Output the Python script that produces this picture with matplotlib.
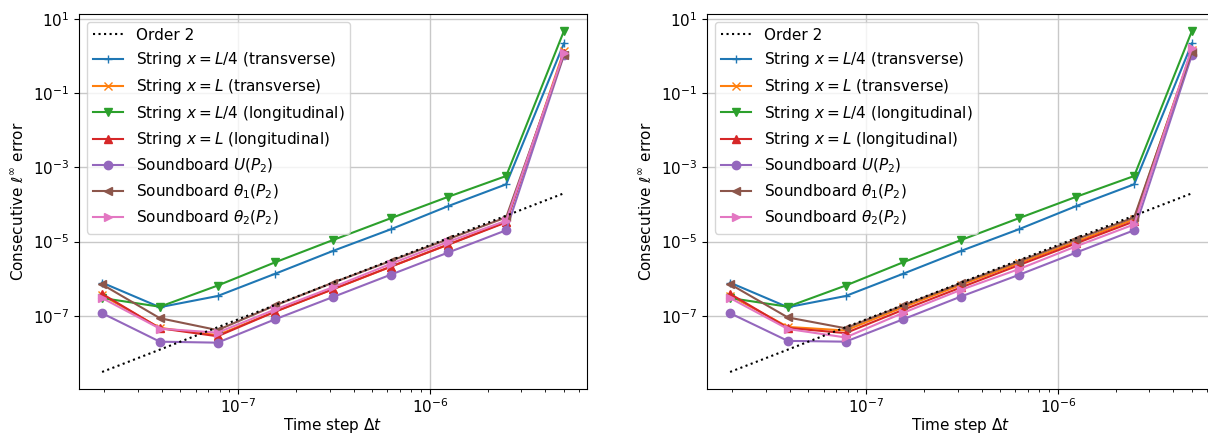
import matplotlib
matplotlib.use('Agg')
import matplotlib.pyplot as plt
import numpy as np

plt.rcParams['font.size'] = 11

# time steps (increasing)
dt = np.array([1.953125e-8, 3.90625e-8, 7.8125e-8, 1.5625e-7, 3.125e-7,
               6.25e-7, 1.25e-6, 2.5e-6, 5e-6])
order2_coef = 8e6

labels = [r'String $x = L/4$ (transverse)', r'String $x = L$ (transverse)',
          r'String $x = L/4$ (longitudinal)', r'String $x = L$ (longitudinal)',
          r'Soundboard $U(P_2)$', r'Soundboard $\theta_1(P_2)$', r'Soundboard $\theta_2(P_2)$']
markers = ['+', 'x', 'v', '^', 'o', '<', '>']

# left panel errors
left_str_l4_tr = [7.8e-7, 1.7e-7, 3.4e-7, 1.36e-6, 5.6e-6, 2.14e-5, 9.1e-5, 3.5e-4, 2.2]
left_str_l_tr = [3.6e-7, 4.7e-8, 3.0e-8, 1.3e-7, 5.2e-7, 2.1e-6, 8.4e-6, 3.4e-5, 1.4]
left_str_l4_lo = [3.0e-7, 1.75e-7, 6.5e-7, 2.77e-6, 1.1e-5, 4.25e-5, 1.62e-4, 5.86e-4, 4.74]
left_str_l_lo = [3.9e-7, 4.6e-8, 2.8e-8, 1.29e-7, 5.2e-7, 2.1e-6, 8.3e-6, 3.3e-5, 1.2]
left_sb_u = [1.17e-7, 2.0e-8, 1.88e-8, 8.05e-8, 3.2e-7, 1.28e-6, 5.1e-6, 2.02e-5, 1.05]
left_sb_th1 = [7.0e-7, 8.6e-8, 4.1e-8, 1.9e-7, 7.8e-7, 3.0e-6, 1.17e-5, 4.5e-5, 1.1]
left_sb_th2 = [3.0e-7, 4.5e-8, 3.5e-8, 1.48e-7, 5.9e-7, 2.5e-6, 9.9e-6, 3.66e-5, 1.24]

# right panel errors
right_str_l4_tr = [7.8e-7, 1.7e-7, 3.4e-7, 1.36e-6, 5.6e-6, 2.14e-5, 9.1e-5, 3.5e-4, 2.2]
right_str_l_tr = [3.5e-7, 5.0e-8, 4.0e-8, 1.7e-7, 6.8e-7, 2.6e-6, 1.0e-5, 4.0e-5, 1.5]
right_str_l4_lo = [3.0e-7, 1.75e-7, 6.5e-7, 2.77e-6, 1.1e-5, 4.25e-5, 1.62e-4, 5.86e-4, 4.74]
right_str_l_lo = [3.9e-7, 4.7e-8, 3.4e-8, 1.45e-7, 5.8e-7, 2.3e-6, 9.0e-6, 3.5e-5, 1.3]
right_sb_u = [1.17e-7, 2.1e-8, 2.0e-8, 8.05e-8, 3.3e-7, 1.26e-6, 5.1e-6, 2.02e-5, 1.07]
right_sb_th1 = [7.1e-7, 9.0e-8, 4.6e-8, 1.9e-7, 7.5e-7, 2.9e-6, 1.15e-5, 4.5e-5, 1.3]
right_sb_th2 = [3.0e-7, 4.4e-8, 2.6e-8, 1.2e-7, 5.0e-7, 1.8e-6, 7.5e-6, 2.9e-5, 1.65]

left_series = [left_str_l4_tr, left_str_l_tr, left_str_l4_lo, left_str_l_lo,
               left_sb_u, left_sb_th1, left_sb_th2]
right_series = [right_str_l4_tr, right_str_l_tr, right_str_l4_lo, right_str_l_lo,
                right_sb_u, right_sb_th1, right_sb_th2]


def draw_panel(ax, series):
    ax.loglog(dt, order2_coef * dt**2, 'k:', label='Order 2', zorder=3)
    for i, (err, m, lab) in enumerate(zip(series, markers, labels)):
        ax.loglog(dt, err, marker=m, color=f'C{i}', label=lab)
    ax.grid(True, color='#c8c8c8', linewidth=1.0)
    ax.tick_params(axis='x', which='major', pad=2.5)
    ax.set_xlabel(r'Time step $\Delta t$', labelpad=0)
    ax.set_ylabel(r'Consecutive $\ell^\infty$ error')
    ax.legend(loc='upper left')


fig = plt.figure(figsize=(12.08, 4.34), dpi=100)
W, H = 1208, 434
ax1 = fig.add_axes([79 / W, 45 / H, 508 / W, 375 / H])
ax2 = fig.add_axes([707 / W, 45 / H, 508 / W, 375 / H])
draw_panel(ax1, left_series)
draw_panel(ax2, right_series)
fig.savefig('out.png', dpi=100)
